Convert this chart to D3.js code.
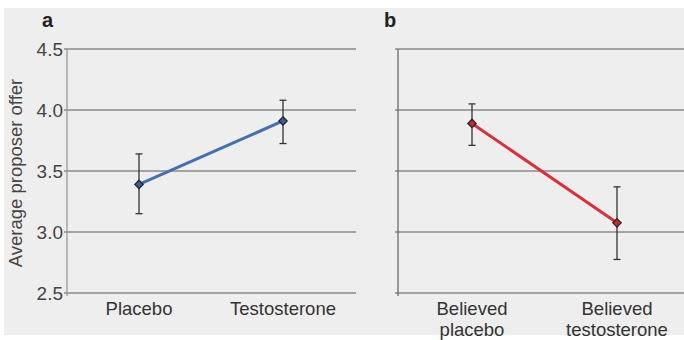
<!DOCTYPE html>
<html>
<head>
<meta charset="utf-8">
<script src="https://cdn.jsdelivr.net/npm/d3@7"></script>
<style>
  body { margin: 0; background: #fff; }
  svg { display: block; font-family: "Liberation Sans", Arial, sans-serif; }
</style>
</head>
<body>
<div id="chart"></div>
<script>
const yTicks = [2.5, 3.0, 3.5, 4.0, 4.5]

const groupsA = ["Placebo", "Testosterone"]
const meanA = [3.39, 3.91]
const lowA = [3.15, 3.725]
const highA = [3.64, 4.08]

const groupsB = [["Believed", "placebo"], ["Believed", "testosterone"]]
const meanB = [3.89, 3.075]
const lowB = [3.71, 2.775]
const highB = [4.05, 3.37]

const W = 684, H = 340
const svg = d3.select("#chart").append("svg")
  .attr("width", W)
  .attr("height", H)

svg.append("rect")
  .attr("x", 4).attr("y", 8)
  .attr("width", W - 4).attr("height", H - 13)
  .attr("fill", "#efeeee")

const y = d3.scaleLinear().domain([2.5, 4.5]).range([293, 49])

function panel(opts) {
  const g = svg.append("g")
  const x = d3.scalePoint()
    .domain(d3.range(opts.means.length))
    .range(opts.pointRange)

  // gridlines
  g.selectAll(".grid").data(yTicks).enter()
    .append("line")
    .attr("x1", opts.x0 - 3)
    .attr("x2", opts.x1)
    .attr("y1", d => y(d))
    .attr("y2", d => y(d))
    .attr("stroke", "#8a8a8a")
    .attr("stroke-width", 1.3)

  // y axis line
  g.append("line")
    .attr("x1", opts.x0).attr("x2", opts.x0)
    .attr("y1", y(4.5)).attr("y2", y(2.5) + 3)
    .attr("stroke", opts.axisColor)
    .attr("stroke-width", 1.3)

  if (opts.showTicks) {
    g.selectAll(".tick").data(yTicks).enter()
      .append("text")
      .attr("x", opts.x0 - 4)
      .attr("y", d => y(d))
      .attr("dy", "0.36em")
      .attr("text-anchor", "end")
      .attr("font-size", 19)
      .attr("fill", "#444")
      .text(d => d3.format(".1f")(d))
  }

  // panel letter
  g.append("text")
    .attr("x", opts.letterX).attr("y", 27)
    .attr("font-size", 20)
    .attr("font-weight", "bold")
    .attr("fill", "#222")
    .text(opts.letter)

  // category labels
  opts.labels.forEach((lab, i) => {
    const lines = Array.isArray(lab) ? lab : [lab]
    lines.forEach((t, j) => {
      g.append("text")
        .attr("x", x(i))
        .attr("y", 315 + j * 21)
        .attr("text-anchor", "middle")
        .attr("font-size", 18.5)
        .attr("fill", "#333")
        .text(t)
    })
  })

  // error bars
  const idx = d3.range(opts.means.length)
  idx.forEach(i => {
    const cx = x(i)
    g.append("line")
      .attr("x1", cx).attr("x2", cx)
      .attr("y1", y(opts.high[i])).attr("y2", y(opts.low[i]))
      .attr("stroke", "#333").attr("stroke-width", 1.3)
    ;[opts.high[i], opts.low[i]].forEach(v => {
      g.append("line")
        .attr("x1", cx - 3.5).attr("x2", cx + 3.5)
        .attr("y1", y(v)).attr("y2", y(v))
        .attr("stroke", "#333").attr("stroke-width", 1.3)
    })
  })

  // connecting line
  g.append("path")
    .datum(idx)
    .attr("d", d3.line().x(i => x(i)).y(i => y(opts.means[i])))
    .attr("fill", "none")
    .attr("stroke", opts.color)
    .attr("stroke-width", 3)

  // markers
  g.selectAll(".pt").data(idx).enter()
    .append("path")
    .attr("d", d3.symbol().type(d3.symbolDiamond2).size(45))
    .attr("transform", i => `translate(${x(i)},${y(opts.means[i])})`)
    .attr("fill", opts.markerFill)
    .attr("stroke", "#222")
    .attr("stroke-width", 1.2)
}

panel({
  letter: "a", letterX: 42, x0: 67, x1: 356,
  pointRange: [139, 283], showTicks: true, axisColor: "#9a9a9a",
  labels: groupsA, means: meanA, low: lowA, high: highA,
  color: "#4570b0", markerFill: "#3a5c9a"
})

panel({
  letter: "b", letterX: 384, x0: 398, x1: 684,
  pointRange: [472, 617], showTicks: false, axisColor: "#6a6a6a",
  labels: groupsB, means: meanB, low: lowB, high: highB,
  color: "#d8313a", markerFill: "#c02a30"
})

// y axis title
svg.append("text")
  .attr("transform", "translate(22,173) rotate(-90)")
  .attr("text-anchor", "middle")
  .attr("font-size", 18.5)
  .attr("fill", "#444")
  .text("Average proposer offer")
</script>
</body>
</html>
